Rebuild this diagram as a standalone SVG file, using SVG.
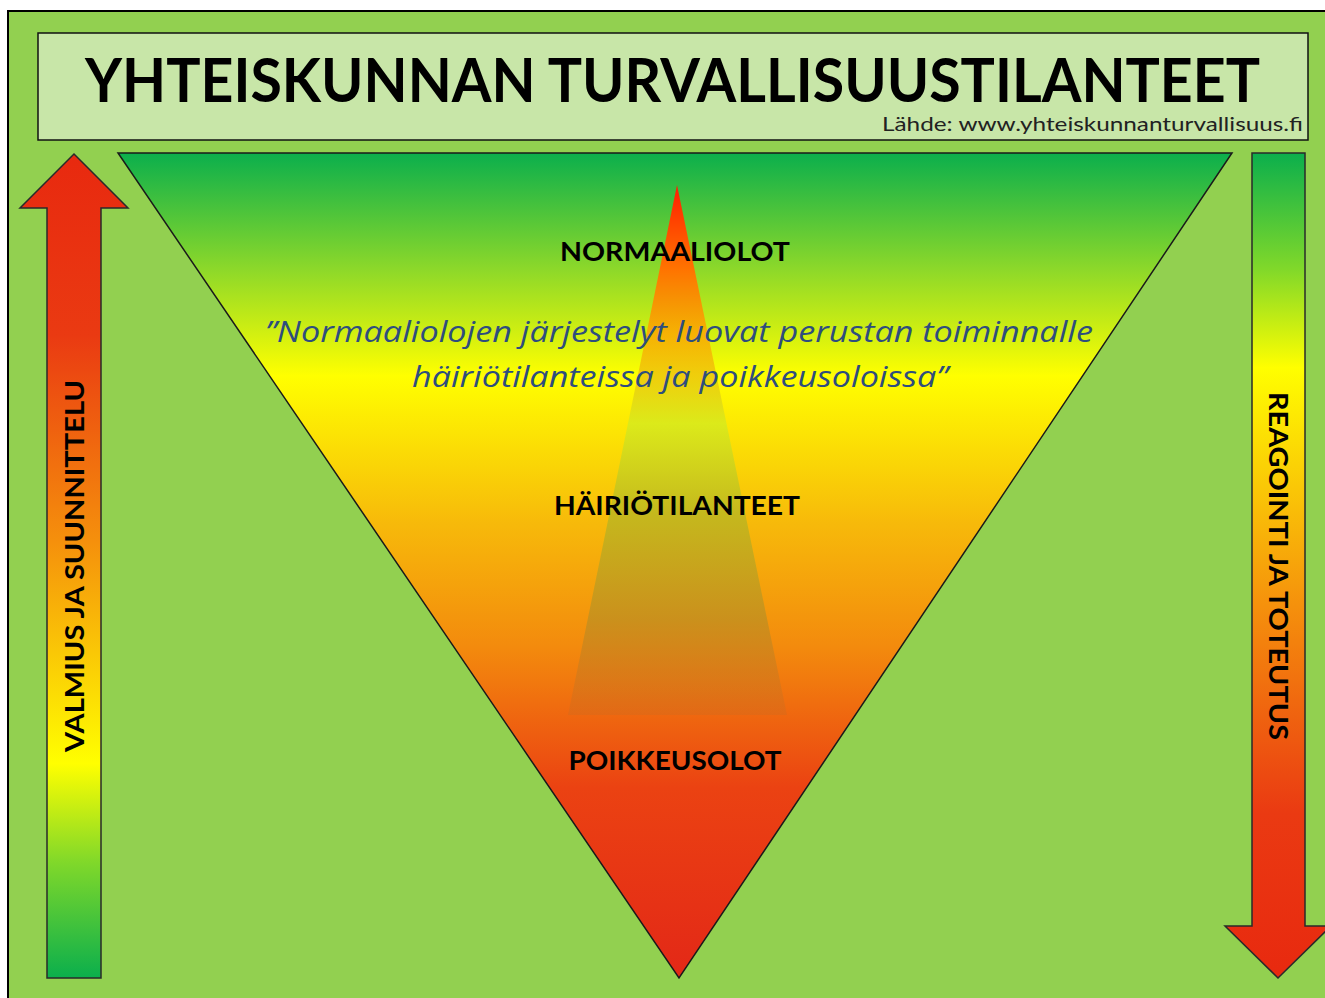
<svg xmlns="http://www.w3.org/2000/svg" width="1325" height="998" viewBox="0 0 1325 998">
<defs>
<style>
.lbl{font-family:Lato,"Open Sans","Liberation Sans",sans-serif;font-weight:bold;fill:#000;}
.quote{font-family:"Open Sans",Lato,"Liberation Sans",sans-serif;font-style:italic;fill:#2E4D7E;font-size:29px;}
.arr{stroke:#2a2a2a;stroke-width:1.5;stroke-linejoin:miter;}
</style>
<linearGradient id="gTri" gradientUnits="userSpaceOnUse" x1="0" y1="153" x2="0" y2="978">
<stop offset="0" stop-color="#0BAF4C"/>
<stop offset="0.14" stop-color="#8CD82A"/>
<stop offset="0.27" stop-color="#FFFF00"/>
<stop offset="0.45" stop-color="#F7B90A"/>
<stop offset="0.6" stop-color="#F38A0D"/>
<stop offset="0.77" stop-color="#EB4212"/>
<stop offset="1" stop-color="#E32817"/>
</linearGradient>
<linearGradient id="gSpike" gradientUnits="userSpaceOnUse" x1="0" y1="185" x2="0" y2="715">
<stop offset="0" stop-color="#FF1E00"/>
<stop offset="0.16" stop-color="#FF7400"/>
<stop offset="0.28" stop-color="#FFA200" stop-opacity="0.8"/>
<stop offset="0.45" stop-color="#D6EA1E" stop-opacity="0.85"/>
<stop offset="0.62" stop-color="#C2B81E" stop-opacity="0.95"/>
<stop offset="0.82" stop-color="#C6901E" stop-opacity="0.9"/>
<stop offset="1" stop-color="#D06A1E" stop-opacity="0.4"/>
</linearGradient>
<linearGradient id="gUp" gradientUnits="userSpaceOnUse" x1="0" y1="154" x2="0" y2="978">
<stop offset="0" stop-color="#E8290F"/>
<stop offset="0.22" stop-color="#EA3A12"/>
<stop offset="0.47" stop-color="#F5900C"/>
<stop offset="0.74" stop-color="#FFFF00"/>
<stop offset="0.86" stop-color="#80D82A"/>
<stop offset="1" stop-color="#0BAF4C"/>
</linearGradient>
<linearGradient id="gDown" gradientUnits="userSpaceOnUse" x1="0" y1="153" x2="0" y2="978">
<stop offset="0" stop-color="#0BAF4C"/>
<stop offset="0.14" stop-color="#80D82A"/>
<stop offset="0.26" stop-color="#FFFF00"/>
<stop offset="0.55" stop-color="#F5900C"/>
<stop offset="0.8" stop-color="#EA3A12"/>
<stop offset="1" stop-color="#E8290F"/>
</linearGradient>
</defs>

<g id="frame">
<rect x="8" y="11" width="1330" height="1000" fill="#92D050" stroke="#000" stroke-width="2"/>
</g>

<g id="title">
<rect x="38" y="33" width="1270" height="107" fill="#C8E6A8" stroke="#111" stroke-width="1.5"/>
<text class="lbl" x="85" y="102" font-size="62" textLength="1175" lengthAdjust="spacingAndGlyphs">YHTEISKUNNAN TURVALLISUUSTILANTEET</text>
<text x="882" y="131" font-family="Lato,'Open Sans','Liberation Sans',sans-serif" font-size="19" fill="#222" textLength="421" lengthAdjust="spacingAndGlyphs">Lähde: www.yhteiskunnanturvallisuus.fi</text>
</g>

<g id="triangle">
<polygon points="118,153 1232,153 679,978" fill="url(#gTri)" stroke="#1a1a1a" stroke-width="1.5"/>
<polygon points="677,185 787,715 568,715" fill="url(#gSpike)"/>
</g>

<g id="left-arrow">
<polygon class="arr" points="74,154 128,208 101,208 101,978 47,978 47,208 20,208" fill="url(#gUp)"/>
<text class="lbl" font-size="26" transform="translate(84,566) rotate(-90)" text-anchor="middle" textLength="372" lengthAdjust="spacingAndGlyphs">VALMIUS JA SUUNNITTELU</text>
</g>

<g id="right-arrow">
<polygon class="arr" points="1252,153 1305,153 1305,926 1331,926 1278,978 1225,926 1252,926" fill="url(#gDown)"/>
<text class="lbl" font-size="26" transform="translate(1269,566) rotate(90)" text-anchor="middle" textLength="348" lengthAdjust="spacingAndGlyphs">REAGOINTI JA TOTEUTUS</text>
</g>

<g id="labels">
<text class="lbl" x="675" y="261" font-size="26" text-anchor="middle" textLength="230" lengthAdjust="spacingAndGlyphs">NORMAALIOLOT</text>
<text class="quote" x="679" y="342" text-anchor="middle" textLength="828" lengthAdjust="spacingAndGlyphs">”Normaaliolojen järjestelyt luovat perustan toiminnalle</text>
<text class="quote" x="680" y="387" text-anchor="middle" textLength="536" lengthAdjust="spacingAndGlyphs">häiriötilanteissa ja poikkeusoloissa”</text>
<text class="lbl" x="677" y="515" font-size="26" text-anchor="middle" textLength="246" lengthAdjust="spacingAndGlyphs">HÄIRIÖTILANTEET</text>
<text class="lbl" x="675" y="770" font-size="26" text-anchor="middle" textLength="213" lengthAdjust="spacingAndGlyphs">POIKKEUSOLOT</text>
</g>
</svg>
